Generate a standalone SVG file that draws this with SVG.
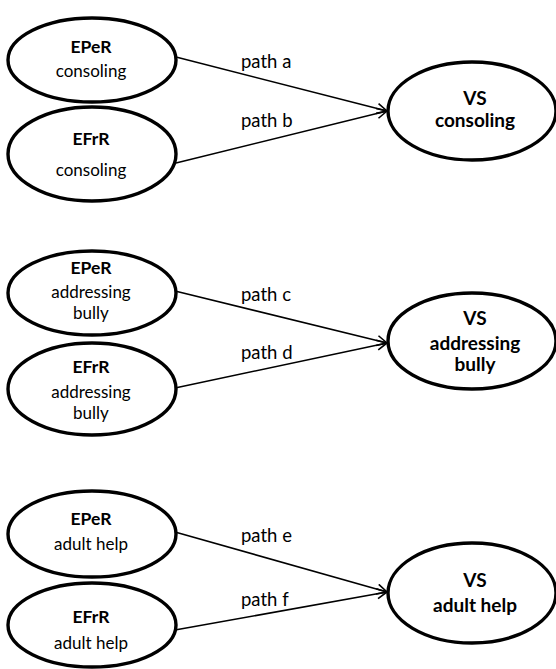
<svg xmlns="http://www.w3.org/2000/svg" width="556" height="669" viewBox="0 0 556 669">
<defs>
<style>
.node ellipse{fill:#fff;stroke:#000;stroke-width:3.4}
text{font-family:Lato,"Open Sans","Liberation Sans",sans-serif;font-size:17px;fill:#000;text-anchor:middle}
.b{font-weight:bold;font-size:17.5px}
.vs{font-weight:bold;font-size:19px}
.lbl{text-anchor:start;font-size:18.5px}
.conn line{stroke:#000;stroke-width:1.6;fill:none}
</style>
<marker id="arr" viewBox="0 0 12 12" refX="11" refY="6" markerWidth="12" markerHeight="12" markerUnits="userSpaceOnUse" orient="auto">
<path d="M1,1 L11,6 L1,11" fill="none" stroke="#000" stroke-width="1.6"/>
</marker>
</defs>
<rect width="556" height="669" fill="#fff"/>
<g id="connectors" class="conn">
<line x1="176" y1="57" x2="387" y2="111" marker-end="url(#arr)"/>
<line x1="176" y1="163" x2="387" y2="111" marker-end="url(#arr)"/>
<line x1="175" y1="291" x2="387" y2="343" marker-end="url(#arr)"/>
<line x1="175" y1="388" x2="387" y2="343" marker-end="url(#arr)"/>
<line x1="175" y1="532" x2="387" y2="592" marker-end="url(#arr)"/>
<line x1="175" y1="630" x2="387" y2="592" marker-end="url(#arr)"/>
</g>
<g id="labels">
<text class="lbl" x="241" y="68">path a</text>
<text class="lbl" x="241" y="127">path b</text>
<text class="lbl" x="241" y="301">path c</text>
<text class="lbl" x="241" y="359">path d</text>
<text class="lbl" x="241" y="542">path e</text>
<text class="lbl" x="241" y="606">path f</text>
</g>
<g id="eper-consoling" class="node">
<ellipse cx="92" cy="60" rx="84" ry="42"/>
<text class="b" x="91" y="53">EPeR</text>
<text x="91" y="77">consoling</text>
</g>
<g id="efrr-consoling" class="node">
<ellipse cx="92" cy="154" rx="84" ry="47"/>
<text class="b" x="91" y="145">EFrR</text>
<text x="91" y="176">consoling</text>
</g>
<g id="vs-consoling" class="node">
<ellipse cx="472" cy="111" rx="84" ry="49"/>
<text class="vs" x="475" y="105">VS</text>
<text class="vs" x="475" y="127">consoling</text>
</g>
<g id="eper-addressing" class="node">
<ellipse cx="92" cy="293" rx="84" ry="42"/>
<text class="b" x="91" y="274">EPeR</text>
<text x="91" y="298">addressing</text>
<text x="91" y="319">bully</text>
</g>
<g id="efrr-addressing" class="node">
<ellipse cx="92" cy="389" rx="84" ry="46"/>
<text class="b" x="91" y="373">EFrR</text>
<text x="91" y="398">addressing</text>
<text x="91" y="419">bully</text>
</g>
<g id="vs-addressing" class="node">
<ellipse cx="472" cy="341" rx="84" ry="48"/>
<text class="vs" x="475" y="325">VS</text>
<text class="vs" x="475" y="350">addressing</text>
<text class="vs" x="475" y="371">bully</text>
</g>
<g id="eper-adult" class="node">
<ellipse cx="92" cy="534" rx="84" ry="43"/>
<text class="b" x="91" y="525">EPeR</text>
<text x="91" y="550">adult help</text>
</g>
<g id="efrr-adult" class="node">
<ellipse cx="92" cy="625" rx="84" ry="42"/>
<text class="b" x="91" y="623">EFrR</text>
<text x="91" y="649">adult help</text>
</g>
<g id="vs-adult" class="node">
<ellipse cx="472" cy="593" rx="84" ry="50"/>
<text class="vs" x="475" y="587">VS</text>
<text class="vs" x="475" y="612">adult help</text>
</g>
</svg>
